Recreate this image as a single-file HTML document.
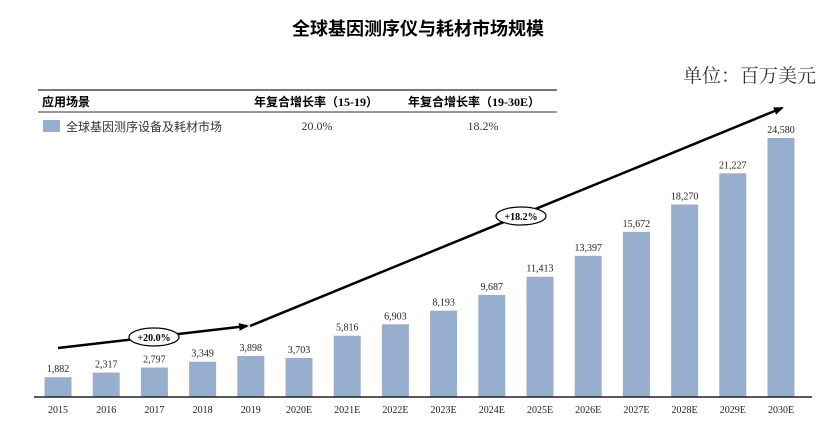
<!DOCTYPE html>
<html><head><meta charset="utf-8"><style>
body{margin:0;background:#fff;width:832px;height:434px;overflow:hidden;font-family:"Liberation Serif","Noto Serif CJK SC",serif}
</style></head><body>
<svg width="832" height="434" xmlns="http://www.w3.org/2000/svg">
<text x="418" y="35" text-anchor="middle" font-size="18" font-weight="bold" font-family="'Liberation Sans','Noto Sans CJK SC',sans-serif">全球基因测序仪与耗材市场规模</text>
<text x="816" y="82" text-anchor="end" font-size="19" font-family="'Liberation Serif','Noto Serif CJK SC',serif" fill="#333">单位：百万美元</text>
<g>
<line x1="38" y1="90" x2="557" y2="90" stroke="#777" stroke-width="2"/>
<line x1="38" y1="112" x2="557" y2="112" stroke="#777" stroke-width="1.5"/>
<text x="42" y="106" font-size="12" font-weight="bold" font-family="'Liberation Sans','Noto Sans CJK SC',sans-serif">应用场景</text>
<text x="254" y="106" font-size="12" font-weight="bold" font-family="'Liberation Serif','Noto Sans CJK SC',serif">年复合增长率（15-19）</text>
<text x="408" y="106" font-size="12" font-weight="bold" font-family="'Liberation Serif','Noto Sans CJK SC',serif">年复合增长率（19-30E）</text>
<rect x="43" y="120" width="17" height="12" fill="#98aecf"/>
<text x="66" y="131" font-size="12" fill="#333" font-family="'Liberation Sans','Noto Sans CJK SC',sans-serif">全球基因测序设备及耗材市场</text>
<text x="317" y="130" text-anchor="middle" font-size="12" fill="#333">20.0%</text>
<text x="483" y="130" text-anchor="middle" font-size="12" fill="#333">18.2%</text>
</g>
<g id="bars"></g>
<line x1="34" y1="397" x2="812" y2="397" stroke="#222" stroke-width="1.5"/>
<g>
<defs><marker id="ah" markerWidth="10" markerHeight="8" refX="8" refY="4" orient="auto" markerUnits="userSpaceOnUse"><path d="M0,0 L10,4 L0,8 z" fill="#000"/></marker></defs>
<line x1="58" y1="348" x2="247" y2="326" stroke="#000" stroke-width="2.5" marker-end="url(#ah)"/>
<line x1="250" y1="326" x2="782" y2="108" stroke="#000" stroke-width="2.5" marker-end="url(#ah)"/>
<ellipse cx="154" cy="337" rx="25" ry="9" fill="#fff" stroke="#000" stroke-width="1.2"/>
<text x="154" y="341" text-anchor="middle" font-size="10" font-weight="bold">+20.0%</text>
<ellipse cx="521" cy="216" rx="25" ry="9" fill="#fff" stroke="#000" stroke-width="1.2"/>
<text x="521" y="220" text-anchor="middle" font-size="10" font-weight="bold">+18.2%</text>
</g>
</svg>
<script>
const categories=["2015","2016","2017","2018","2019","2020E","2021E","2022E","2023E","2024E","2025E","2026E","2027E","2028E","2029E","2030E"];
const values=[1882,2317,2797,3349,3898,3703,5816,6903,8193,9687,11413,13397,15672,18270,21227,24580];
const valueLabels=["1,882","2,317","2,797","3,349","3,898","3,703","5,816","6,903","8,193","9,687","11,413","13,397","15,672","18,270","21,227","24,580"];
const NS="http://www.w3.org/2000/svg";
const x0=58,step=48.2,base=397,scale=259/24580,bw=27;
const xPos=i=>x0+i*step;
const yPos=v=>base-v*scale;
const g=document.getElementById('bars');
categories.forEach((c,i)=>{
 const r=document.createElementNS(NS,'rect');
 r.setAttribute('x',xPos(i)-bw/2);r.setAttribute('y',yPos(values[i]));
 r.setAttribute('width',bw);r.setAttribute('height',base-yPos(values[i]));
 r.setAttribute('fill','#98aecf');
 
 
 g.appendChild(r);
 const t=document.createElementNS(NS,'text');
 t.setAttribute('x',xPos(i));t.setAttribute('y',yPos(values[i])-5);
 t.setAttribute('text-anchor','middle');t.setAttribute('font-size','10');t.setAttribute('fill','#222');
 t.textContent=valueLabels[i];
 
 
 g.appendChild(t);
 const l=document.createElementNS(NS,'text');
 l.setAttribute('x',xPos(i));l.setAttribute('y',413);
 l.setAttribute('text-anchor','middle');l.setAttribute('font-size','10');l.setAttribute('fill','#222');
 l.textContent=c;
 
 
 g.appendChild(l);
});
</script>
</body></html>
